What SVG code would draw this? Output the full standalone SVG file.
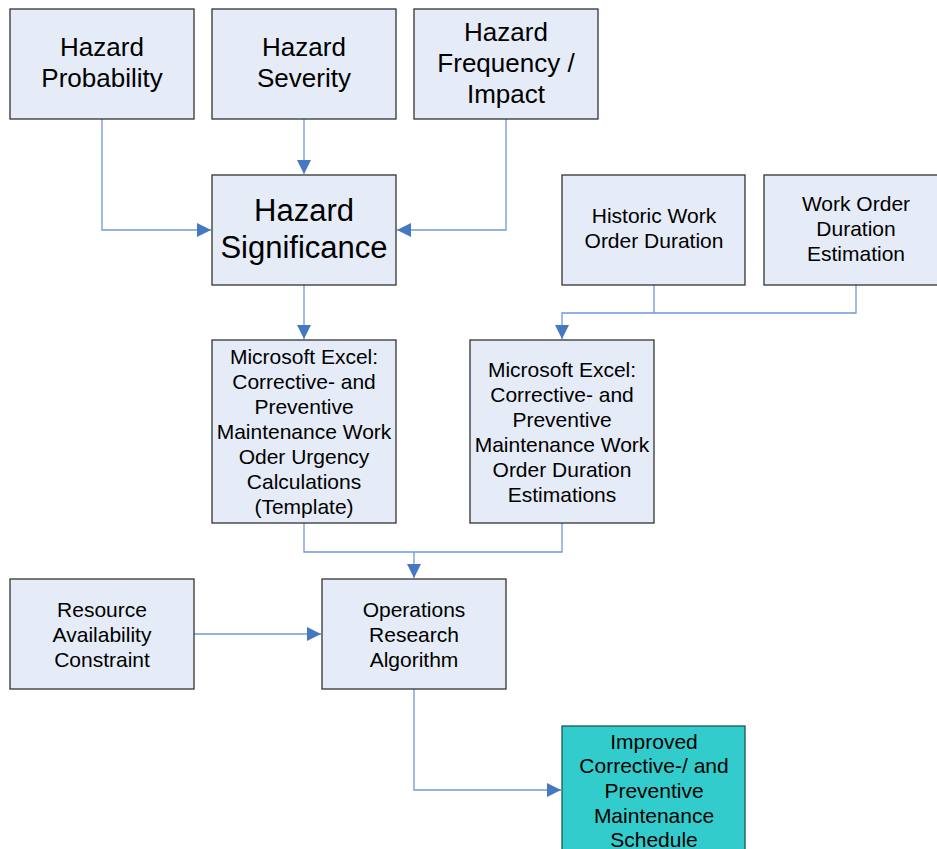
<svg xmlns="http://www.w3.org/2000/svg" width="937" height="849" viewBox="0 0 937 849">
<defs>
<marker id="arr" markerWidth="14" markerHeight="14" refX="14" refY="7" orient="auto" markerUnits="userSpaceOnUse">
<path d="M0,0 L14,7 L0,14 Z" fill="#4677C1"/>
</marker>
<style>
.box{fill:#E6ECF7;stroke:#333;stroke-width:1.3}
.out{fill:#33CCCC;stroke:#1a5a5a;stroke-width:1.3}
.conn{fill:none;stroke:#6F98D8;stroke-width:1.3}
text{font-family:"Liberation Sans",Arial,sans-serif;fill:#000;text-anchor:middle}
.big{font-size:26px}
.huge{font-size:31px}
.sm{font-size:21px}
</style>
</defs>
<rect width="937" height="849" fill="#fff"/>
<g id="connectors">
<path class="conn" d="M102,119 V230 H211" marker-end="url(#arr)"/>
<path class="conn" d="M304,119 V174" marker-end="url(#arr)"/>
<path class="conn" d="M506,119 V230 H397" marker-end="url(#arr)"/>
<path class="conn" d="M304,285 V339" marker-end="url(#arr)"/>
<path class="conn" d="M654,285 V313"/>
<path class="conn" d="M856,285 V313 H562 V339" marker-end="url(#arr)"/>
<path class="conn" d="M304,523 V552 H562 V523"/>
<path class="conn" d="M414,552 V578" marker-end="url(#arr)"/>
<path class="conn" d="M194,634 H321" marker-end="url(#arr)"/>
<path class="conn" d="M414,689 V790 H561" marker-end="url(#arr)"/>
</g>
<g id="hazard-probability">
<rect class="box" x="10" y="9" width="184" height="110"/>
<text class="big" x="102" y="56">Hazard</text>
<text class="big" x="102" y="87">Probability</text>
</g>
<g id="hazard-severity">
<rect class="box" x="212" y="9" width="184" height="110"/>
<text class="big" x="304" y="56">Hazard</text>
<text class="big" x="304" y="87">Severity</text>
</g>
<g id="hazard-frequency">
<rect class="box" x="414" y="9" width="184" height="110"/>
<text class="big" x="506" y="41">Hazard</text>
<text class="big" x="506" y="72">Frequency /</text>
<text class="big" x="506" y="103">Impact</text>
</g>
<g id="hazard-significance">
<rect class="box" x="212" y="175" width="184" height="110"/>
<text class="huge" x="304" y="221">Hazard</text>
<text class="huge" x="304" y="258">Significance</text>
</g>
<g id="historic-duration">
<rect class="box" x="562" y="175" width="183" height="110"/>
<text class="sm" x="654" y="222.5">Historic Work</text>
<text class="sm" x="654" y="247.5">Order Duration</text>
</g>
<g id="duration-estimation">
<rect class="box" x="764" y="175" width="184" height="110"/>
<text class="sm" x="856" y="210.5">Work Order</text>
<text class="sm" x="856" y="235.5">Duration</text>
<text class="sm" x="856" y="260.5">Estimation</text>
</g>
<g id="excel-urgency">
<rect class="box" x="212" y="340" width="184" height="183"/>
<text class="sm" x="304" y="363.5">Microsoft Excel:</text>
<text class="sm" x="304" y="388.5">Corrective- and</text>
<text class="sm" x="304" y="413.5">Preventive</text>
<text class="sm" x="304" y="438.5">Maintenance Work</text>
<text class="sm" x="304" y="463.5">Oder Urgency</text>
<text class="sm" x="304" y="488.5">Calculations</text>
<text class="sm" x="304" y="513.5">(Template)</text>
</g>
<g id="excel-duration">
<rect class="box" x="470" y="340" width="184" height="183"/>
<text class="sm" x="562" y="376.5">Microsoft Excel:</text>
<text class="sm" x="562" y="401.5">Corrective- and</text>
<text class="sm" x="562" y="426.5">Preventive</text>
<text class="sm" x="562" y="451.5">Maintenance Work</text>
<text class="sm" x="562" y="476.5">Order Duration</text>
<text class="sm" x="562" y="501.5">Estimations</text>
</g>
<g id="resource-availability">
<rect class="box" x="10" y="579" width="184" height="110"/>
<text class="sm" x="102" y="616.5">Resource</text>
<text class="sm" x="102" y="641.5">Availability</text>
<text class="sm" x="102" y="666.5">Constraint</text>
</g>
<g id="operations-research">
<rect class="box" x="322" y="579" width="184" height="110"/>
<text class="sm" x="414" y="616.5">Operations</text>
<text class="sm" x="414" y="641.5">Research</text>
<text class="sm" x="414" y="666.5">Algorithm</text>
</g>
<g id="improved-schedule">
<rect class="out" x="562" y="726" width="183" height="140"/>
<text class="sm" x="654" y="748.5">Improved</text>
<text class="sm" x="654" y="772.5">Corrective-/ and</text>
<text class="sm" x="654" y="797.5">Preventive</text>
<text class="sm" x="654" y="822.5">Maintenance</text>
<text class="sm" x="654" y="846.5">Schedule</text>
</g>
</svg>
